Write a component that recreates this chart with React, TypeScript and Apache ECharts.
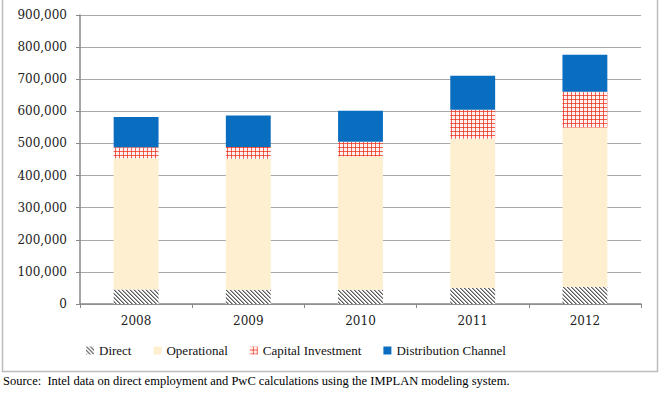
import React, { useEffect, useRef } from "react";
import * as echarts from "echarts";

const years = ["2008", "2009", "2010", "2011", "2012"];
const direct = [45000, 44000, 44000, 50000, 53000];
const operational = [409000, 408000, 416000, 465000, 497000];
const capitalInvestment = [34000, 37000, 45000, 90000, 111000];
const distributionChannel = [94000, 98000, 97000, 106000, 115000];
const seriesNames = ["Direct", "Operational", "Capital Investment", "Distribution Channel"];
const sourceNote =
  "Source:  Intel data on direct employment and PwC calculations using the IMPLAN modeling system.";

function makeHatch(): HTMLCanvasElement {
  const c = document.createElement("canvas");
  c.width = 4;
  c.height = 4;
  const ctx = c.getContext("2d")!;
  ctx.fillStyle = "#ffffff";
  ctx.fillRect(0, 0, 4, 4);
  for (let y = 0; y < 4; y++) {
    for (let x = 0; x < 4; x++) {
      const d = (((x - y) % 4) + 4) % 4;
      if (d === 0) {
        ctx.fillStyle = "#5a5a5a";
        ctx.fillRect(x, y, 1, 1);
      } else if (d === 1) {
        ctx.fillStyle = "#a5a5a5";
        ctx.fillRect(x, y, 1, 1);
      }
    }
  }
  return c;
}

function makeGrid(): HTMLCanvasElement {
  const c = document.createElement("canvas");
  c.width = 4;
  c.height = 4;
  const ctx = c.getContext("2d")!;
  ctx.fillStyle = "#FFF2F0";
  ctx.fillRect(0, 0, 4, 4);
  ctx.fillStyle = "#F2604F";
  ctx.fillRect(3, 0, 1, 4);
  ctx.fillRect(0, 3, 4, 1);
  ctx.fillStyle = "#EE3B2B";
  ctx.fillRect(3, 3, 1, 1);
  return c;
}

export default function App() {
  const ref = useRef<HTMLDivElement>(null);
  useEffect(() => {
    if (!ref.current) return;
    const chart = echarts.init(ref.current, null, { renderer: "svg" });
    const serif = "'DejaVu Serif', serif";
    const textSerif = "'Liberation Serif', serif";
    const hatch = { image: makeHatch(), repeat: "repeat" };
    const grid = { image: makeGrid(), repeat: "repeat" };
    chart.setOption({
      animation: false,
      backgroundColor: "#ffffff",
      grid: { left: 80, right: 24, top: 15, bottom: 92 },
      legend: {
        left: 81,
        top: 339,
        itemWidth: 8,
        itemHeight: 8,
        itemGap: 22,
        icon: "rect",
        textStyle: { fontFamily: textSerif, fontSize: 13, color: "#111" },
        data: seriesNames,
      },
      xAxis: {
        type: "category",
        data: years,
        axisLine: { lineStyle: { color: "#888", width: 1.5 } },
        axisTick: { show: true, length: 4, lineStyle: { color: "#888" } },
        axisLabel: { fontFamily: serif, fontSize: 12, color: "#222", margin: 11 },
      },
      yAxis: {
        type: "value",
        min: 0,
        max: 900000,
        interval: 100000,
        axisLine: { show: true, lineStyle: { color: "#888", width: 1.5 } },
        axisTick: { show: true, length: 4, lineStyle: { color: "#888" } },
        axisLabel: { fontFamily: serif, fontSize: 12, color: "#222", margin: 13 },
        splitLine: { lineStyle: { color: "#A8A8A8", width: 1 } },
      },
      series: [
        {
          name: seriesNames[0],
          type: "bar",
          stack: "total",
          barCategoryGap: "60%",
          data: direct,
          itemStyle: { color: hatch },
        },
        {
          name: seriesNames[1],
          type: "bar",
          stack: "total",
          barCategoryGap: "60%",
          data: operational,
          itemStyle: { color: "#FDEFCF" },
        },
        {
          name: seriesNames[2],
          type: "bar",
          stack: "total",
          barCategoryGap: "60%",
          data: capitalInvestment,
          itemStyle: { color: grid },
        },
        {
          name: seriesNames[3],
          type: "bar",
          stack: "total",
          barCategoryGap: "60%",
          data: distributionChannel,
          itemStyle: { color: "#0A6EC0" },
        },
      ],
      graphic: [
        {
          type: "rect",
          shape: { x: 2.5, y: -3, width: 655, height: 374.5 },
          style: { fill: "none", stroke: "#BDBDBD", lineWidth: 1.5 },
          silent: true,
          z: -10,
        },
        {
          type: "text",
          left: 3,
          top: 374,
          style: {
            text: sourceNote,
            fontFamily: textSerif,
            fontSize: 12.5,
            fill: "#000",
          },
        },
      ],
    });
    return () => chart.dispose();
  }, []);
  return (
    <div
      ref={ref}
      style={{ position: "absolute", left: 0, top: 0, width: 665, height: 396, background: "#fff" }}
    />
  );
}
